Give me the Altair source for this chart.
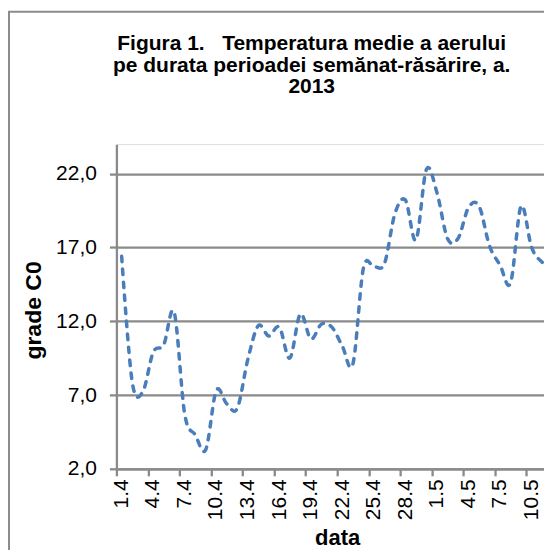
import altair as alt
import pandas as pd

# categories (dates, daily) and mean air temperature values
dates = ["1.4", "2.4", "3.4", "4.4", "5.4", "6.4", "7.4", "8.4", "9.4", "10.4",
         "11.4", "12.4", "13.4", "14.4", "15.4", "16.4", "17.4", "18.4", "19.4", "20.4",
         "21.4", "22.4", "23.4", "24.4", "25.4", "26.4", "27.4", "28.4", "29.4", "30.4",
         "1.5", "2.5", "3.5", "4.5", "5.5", "6.5", "7.5", "8.5", "9.5", "10.5",
         "11.5", "12.5"]
temps = [16.4, 7.9, 7.2, 9.9, 10.4, 12.6, 5.7, 4.3, 3.3, 7.3,
         6.4, 6.1, 9.4, 11.7, 11.0, 11.6, 9.5, 12.5, 10.8, 11.8,
         11.6, 10.3, 9.1, 15.6, 15.7, 15.9, 19.3, 20.2, 17.5, 22.3,
         20.7, 17.6, 17.6, 19.7, 19.8, 17.1, 15.8, 14.6, 19.8, 17.0,
         16.0, 15.6]
y_ticks = [2, 7, 12, 17, 22]
title_lines = ["Figura 1.\u00a0\u00a0\u00a0Temperatura medie a aerului",
               "pe durata perioadei semănat-răsărire, a.",
               "2013"]

df = pd.DataFrame({"idx": list(range(len(dates))), "data": dates, "temp": temps})

label_dates = dates[0::3]
tick_vals = [i - 0.5 for i in range(0, len(dates), 3)]
label_js = "[" + ",".join("'" + d + "'" for d in label_dates) + "]"

W, H = 428, 325
GRID = "#8a8a8a"
FONT = "Liberation Sans"

x_scale = alt.Scale(domain=[-0.5, 40.18], nice=False, zero=False)
y_scale = alt.Scale(domain=[2, 24], nice=False, zero=False)

line = alt.Chart(df).mark_line(
    interpolate="cardinal", color="#4A7EBB", strokeWidth=3.5,
    strokeDash=[5.5, 7.5], strokeCap="round", clip=True
).encode(
    x=alt.X("idx:Q", scale=x_scale, axis=alt.Axis(
        values=tick_vals,
        labelExpr=label_js + "[round((datum.value + 0.5) / 3)]",
        labelAngle=270, labelAlign="right", labelBaseline="middle",
        labelOffset=5, labelPadding=3, labelFontSize=21, labelFont=FONT,
        labelColor="#000000",
        tickSize=7, tickColor=GRID, tickWidth=2.3,
        domainColor=GRID, domainWidth=2.3, grid=False,
        title="data", titleFont=FONT, titleFontSize=22, titleFontWeight="bold",
        titleColor="#000000", titleX=221, titleY=69, titleAlign="center",
        titleBaseline="middle", labelOverlap=False, labelFlush=False,
    )),
    y=alt.Y("temp:Q", scale=y_scale, axis=alt.Axis(
        values=y_ticks,
        labelExpr="replace(format(datum.value, '.1f'), '.', ',')",
        labelFontSize=21, labelFont=FONT, labelColor="#000000", labelPadding=13,
        tickSize=7, tickColor=GRID, tickWidth=2.3,
        domainColor=GRID, domainWidth=2.3,
        grid=True, gridColor=GRID, gridWidth=2.3, gridOpacity=1,
        title="grade C0", titleFont=FONT, titleFontSize=23, titleFontWeight="bold",
        titleColor="#000000", titleX=-83, titleY=166, titleAngle=270,
        titleAlign="center", titleBaseline="middle", labelFlush=False,
    )),
)

frame = alt.Chart(alt.Data(values=[{"k": 1}])).mark_rect(
    fill=None, stroke="#8c8c8c", strokeWidth=2
).encode(
    x=alt.value(-107.5), x2=alt.value(W + 60),
    y=alt.value(-132.5), y2=alt.value(H + 200),
)

title = alt.Chart(alt.Data(values=[{"k": 1}])).mark_text(
    text=title_lines, font=FONT, fontSize=21, fontWeight="bold",
    color="#000000", align="center", baseline="alphabetic", lineHeight=21.5,
).encode(
    x=alt.value(195.5), y=alt.value(-94),
)

chart = alt.layer(frame, title, line).properties(
    width=W, height=H,
    autosize=alt.AutoSizeParams(type="none"),
    padding={"left": 108.5, "top": 136, "right": 0, "bottom": 81},
).configure_view(stroke=None).configure(background="white")

chart.save("out.html", embed_options={"renderer": "svg", "actions": False})
